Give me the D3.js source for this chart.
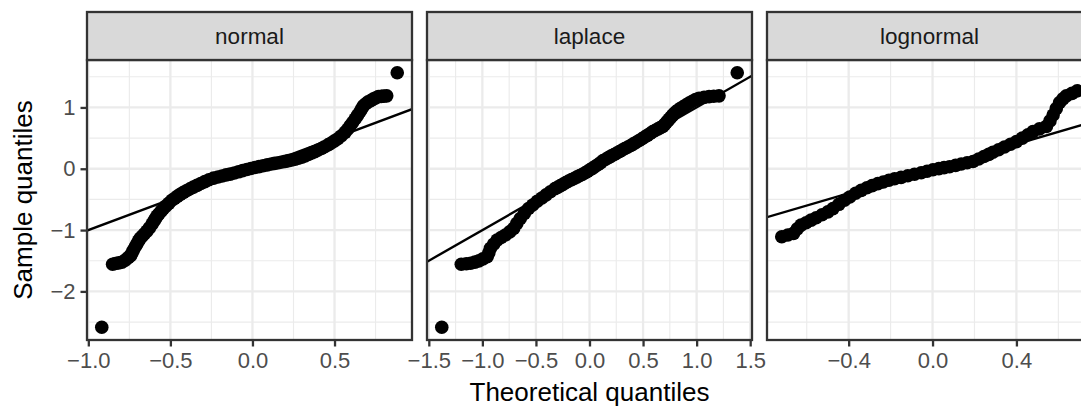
<!DOCTYPE html>
<html>
<head>
<meta charset="utf-8">
<script src="https://cdn.jsdelivr.net/npm/d3@7"></script>
<style>
  html, body { margin: 0; padding: 0; background: #ffffff; }
  svg { display: block; }
  text { font-family: "Liberation Sans", Arial, Helvetica, sans-serif; }
</style>
</head>
<body>
<svg id="chart" width="1081" height="407"></svg>
<script>
// Facet titles
const facets = ["normal", "laplace", "lognormal"];

// Sample quantiles against theoretical quantiles, one [theoretical, sample] pair per point
const normalPoints = [
  [-0.918,-2.585],[-0.852,-1.557],[-0.835,-1.545],[-0.815,-1.535],[-0.795,-1.524],[-0.775,-1.49],
  [-0.757,-1.45],[-0.744,-1.422],[-0.735,-1.38],[-0.726,-1.33],[-0.714,-1.271],[-0.705,-1.23],
  [-0.695,-1.18],[-0.684,-1.135],[-0.672,-1.1],[-0.658,-1.06],[-0.643,-1.017],[-0.628,-0.965],
  [-0.612,-0.903],[-0.6,-0.85],[-0.59,-0.81],[-0.582,-0.773],[-0.57,-0.735],[-0.556,-0.69],
  [-0.542,-0.649],[-0.528,-0.61],[-0.51,-0.565],[-0.491,-0.514],[-0.475,-0.485],[-0.458,-0.45],
  [-0.44,-0.417],[-0.42,-0.385],[-0.4,-0.355],[-0.38,-0.325],[-0.36,-0.3],[-0.338,-0.271],
  [-0.315,-0.24],[-0.29,-0.21],[-0.265,-0.18],[-0.237,-0.152],[-0.21,-0.135],[-0.185,-0.118],
  [-0.16,-0.1],[-0.136,-0.087],[-0.11,-0.068],[-0.085,-0.05],[-0.06,-0.03],[-0.034,-0.011],
  [-0.01,0.005],[0.015,0.02],[0.04,0.035],[0.065,0.05],[0.09,0.063],[0.115,0.077],
  [0.135,0.087],[0.158,0.097],[0.18,0.11],[0.2,0.12],[0.22,0.132],[0.24,0.144],
  [0.26,0.156],[0.28,0.172],[0.3,0.19],[0.32,0.21],[0.34,0.235],[0.361,0.259],
  [0.38,0.28],[0.4,0.305],[0.42,0.33],[0.44,0.36],[0.463,0.394],[0.48,0.42],
  [0.5,0.455],[0.52,0.49],[0.54,0.535],[0.564,0.594],[0.58,0.645],[0.595,0.7],
  [0.61,0.755],[0.625,0.811],[0.64,0.87],[0.655,0.93],[0.666,0.98],[0.676,1.026],
  [0.69,1.06],[0.705,1.09],[0.72,1.11],[0.735,1.135],[0.75,1.155],[0.767,1.177],
  [0.785,1.18],[0.8,1.185],[0.818,1.189],[0.882,1.566]
];

const laplacePoints = [
  [-1.379,-2.585],[-1.197,-1.557],[-1.15,-1.55],[-1.11,-1.54],[-1.07,-1.522],[-1.033,-1.503],
  [-0.995,-1.47],[-0.955,-1.433],[-0.94,-1.37],[-0.925,-1.297],[-0.895,-1.23],[-0.863,-1.163],
  [-0.825,-1.12],[-0.785,-1.081],[-0.745,-1.03],[-0.708,-0.973],[-0.678,-0.89],[-0.646,-0.811],
  [-0.608,-0.73],[-0.569,-0.649],[-0.53,-0.59],[-0.488,-0.53],[-0.445,-0.476],[-0.405,-0.425],
  [-0.365,-0.375],[-0.322,-0.324],[-0.295,-0.3],[-0.27,-0.275],[-0.245,-0.25],[-0.22,-0.225],
  [-0.195,-0.2],[-0.167,-0.178],[-0.14,-0.155],[-0.115,-0.133],[-0.09,-0.11],[-0.065,-0.09],
  [-0.04,-0.065],[-0.02,-0.044],[0.005,-0.015],[0.03,0.01],[0.055,0.04],[0.08,0.07],
  [0.105,0.1],[0.127,0.135],[0.155,0.16],[0.18,0.185],[0.205,0.21],[0.23,0.233],
  [0.255,0.257],[0.281,0.281],[0.305,0.305],[0.33,0.33],[0.358,0.355],[0.385,0.38],
  [0.41,0.405],[0.436,0.432],[0.463,0.46],[0.49,0.49],[0.515,0.517],[0.54,0.545],
  [0.566,0.575],[0.591,0.605],[0.615,0.628],[0.64,0.65],[0.662,0.67],[0.684,0.691],
  [0.7,0.72],[0.715,0.75],[0.73,0.78],[0.745,0.811],[0.76,0.84],[0.775,0.87],
  [0.79,0.9],[0.807,0.929],[0.828,0.958],[0.85,0.985],[0.875,1.012],[0.9,1.038],
  [0.93,1.07],[0.96,1.1],[0.99,1.127],[1.023,1.151],[1.07,1.165],[1.116,1.177],
  [1.16,1.183],[1.209,1.189],[1.379,1.566]
];

const lognormalPoints = [
  [-0.719,-1.109],[-0.69,-1.08],[-0.663,-1.054],[-0.645,-0.98],[-0.627,-0.919],[-0.603,-0.88],
  [-0.579,-0.838],[-0.555,-0.8],[-0.527,-0.75],[-0.499,-0.703],[-0.475,-0.65],[-0.447,-0.58],
  [-0.42,-0.514],[-0.395,-0.46],[-0.367,-0.4],[-0.34,-0.352],[-0.313,-0.31],[-0.288,-0.275],
  [-0.261,-0.243],[-0.235,-0.215],[-0.208,-0.188],[-0.181,-0.162],[-0.15,-0.14],[-0.118,-0.115],
  [-0.086,-0.09],[-0.054,-0.065],[-0.026,-0.04],[0.002,-0.016],[0.03,0.002],[0.055,0.018],
  [0.081,0.032],[0.11,0.055],[0.137,0.077],[0.165,0.097],[0.193,0.118],[0.22,0.16],
  [0.245,0.2],[0.268,0.235],[0.288,0.269],[0.315,0.31],[0.343,0.355],[0.372,0.4],
  [0.4,0.443],[0.428,0.5],[0.455,0.555],[0.479,0.605],[0.51,0.65],[0.543,0.691],
  [0.56,0.78],[0.575,0.876],[0.59,0.98],[0.606,1.08],[0.622,1.14],[0.638,1.189],
  [0.665,1.23],[0.69,1.27]
];

// Reference line y = intercept + slope * x
const refSlope = 1;
const refIntercept = 0;

// Axis breaks
const yTicks = [-2, -1, 0, 1];
const yMinor = [-2.5, -1.5, -0.5, 0.5, 1.5];
const xTicksNormal = [-1, -0.5, 0, 0.5];
const xMinorNormal = [-0.75, -0.25, 0.25, 0.75];
const xTicksLaplace = [-1.5, -1, -0.5, 0, 0.5, 1, 1.5];
const xMinorLaplace = [-1.25, -0.75, -0.25, 0.25, 0.75, 1.25];
const xTicksLognormal = [-0.4, 0, 0.4];
const xMinorLognormal = [-0.6, -0.2, 0.2, 0.6];

const xTitle = "Theoretical quantiles";
const yTitle = "Sample quantiles";

const panelData = [normalPoints, laplacePoints, lognormalPoints];
const panelTicks = [xTicksNormal, xTicksLaplace, xTicksLognormal];
const panelMinor = [xMinorNormal, xMinorLaplace, xMinorLognormal];

// Layout
const left = 87, panelW = 325, gap = 15;
const plotTop = 60, plotBottom = 340, stripTop = 12;
const lineW = 2.3;
const pointR = 6.8;
const ink = "#333333", gridCol = "#EBEBEB", tickText = "#4D4D4D";

const minus = s => s.replace(/-/g, "\u2212");
const fmt1 = d3.format(".1f");

function expanded(ext) {
  const pad = (ext[1] - ext[0]) * 0.05;
  return [ext[0] - pad, ext[1] + pad];
}

const svg = d3.select("#chart");

const allY = panelData.flat().map(d => d[1]);
const y = d3.scaleLinear()
  .domain(expanded(d3.extent(allY)))
  .range([plotBottom, plotTop]);

facets.forEach((name, i) => {
  const x0 = left + i * (panelW + gap);
  const pts = panelData[i];
  const x = d3.scaleLinear()
    .domain(expanded(d3.extent(pts, d => d[0])))
    .range([x0, x0 + panelW]);

  const g = svg.append("g");
  const clipId = "clip-" + name;
  svg.append("clipPath").attr("id", clipId)
    .append("rect").attr("x", x0).attr("y", plotTop).attr("width", panelW).attr("height", plotBottom - plotTop);

  // Background
  g.append("rect").attr("x", x0).attr("y", plotTop).attr("width", panelW)
    .attr("height", plotBottom - plotTop).attr("fill", "#ffffff");

  // Minor grid
  g.append("g").selectAll("line").data(yMinor).join("line")
    .attr("x1", x0).attr("x2", x0 + panelW)
    .attr("y1", d => y(d)).attr("y2", d => y(d))
    .attr("stroke", gridCol).attr("stroke-width", lineW / 2);
  g.append("g").selectAll("line").data(panelMinor[i].filter(v => v >= x.domain()[0] && v <= x.domain()[1])).join("line")
    .attr("y1", plotTop).attr("y2", plotBottom)
    .attr("x1", d => x(d)).attr("x2", d => x(d))
    .attr("stroke", gridCol).attr("stroke-width", lineW / 2);

  // Major grid
  g.append("g").selectAll("line").data(yTicks).join("line")
    .attr("x1", x0).attr("x2", x0 + panelW)
    .attr("y1", d => y(d)).attr("y2", d => y(d))
    .attr("stroke", gridCol).attr("stroke-width", lineW);
  g.append("g").selectAll("line").data(panelTicks[i]).join("line")
    .attr("y1", plotTop).attr("y2", plotBottom)
    .attr("x1", d => x(d)).attr("x2", d => x(d))
    .attr("stroke", gridCol).attr("stroke-width", lineW);

  // Points
  g.append("g").attr("clip-path", `url(#${clipId})`)
    .selectAll("circle").data(pts).join("circle")
    .attr("cx", d => x(d[0])).attr("cy", d => y(d[1]))
    .attr("r", pointR).attr("fill", "#000000");

  // Reference line
  const [dx0, dx1] = x.domain();
  g.append("line").attr("clip-path", `url(#${clipId})`)
    .attr("x1", x(dx0)).attr("y1", y(refIntercept + refSlope * dx0))
    .attr("x2", x(dx1)).attr("y2", y(refIntercept + refSlope * dx1))
    .attr("stroke", "#000000").attr("stroke-width", 2.4);

  // Panel border
  g.append("rect").attr("x", x0).attr("y", plotTop).attr("width", panelW)
    .attr("height", plotBottom - plotTop).attr("fill", "none")
    .attr("stroke", ink).attr("stroke-width", lineW);

  // Strip
  g.append("rect").attr("x", x0).attr("y", stripTop).attr("width", panelW)
    .attr("height", plotTop - stripTop).attr("fill", "#D9D9D9")
    .attr("stroke", ink).attr("stroke-width", lineW);
  g.append("text").attr("x", x0 + panelW / 2).attr("y", (stripTop + plotTop) / 2)
    .attr("dy", "0.36em").attr("text-anchor", "middle")
    .attr("font-size", 22.5).attr("fill", "#1A1A1A").text(name);

  // X axis
  const xAxis = g.append("g").attr("transform", `translate(0,${plotBottom})`)
    .call(d3.axisBottom(x).tickValues(panelTicks[i]).tickSize(6.5).tickPadding(5)
      .tickFormat(d => minus(fmt1(d))));
  xAxis.select(".domain").remove();
  xAxis.selectAll(".tick line").attr("stroke", ink).attr("stroke-width", lineW);
  xAxis.selectAll(".tick text").attr("fill", tickText).attr("font-size", 22)
    .attr("font-family", null).attr("dy", "0.75em");

  // Y axis only on the first panel
  if (i === 0) {
    const yAxis = g.append("g").attr("transform", `translate(${x0},0)`)
      .call(d3.axisLeft(y).tickValues(yTicks).tickSize(6.5).tickPadding(5)
        .tickFormat(d => minus(String(d))));
    yAxis.select(".domain").remove();
    yAxis.selectAll(".tick line").attr("stroke", ink).attr("stroke-width", lineW);
    yAxis.selectAll(".tick text").attr("fill", tickText).attr("font-size", 22)
      .attr("font-family", null);
  }
});

// Axis titles
svg.append("text").attr("x", left + (3 * panelW + 2 * gap) / 2).attr("y", 401)
  .attr("text-anchor", "middle").attr("font-size", 26).attr("fill", "#000000").text(xTitle);
svg.append("text").attr("transform", `translate(32,${(plotTop + plotBottom) / 2}) rotate(-90)`)
  .attr("text-anchor", "middle").attr("font-size", 26).attr("fill", "#000000").text(yTitle);
</script>
</body>
</html>
